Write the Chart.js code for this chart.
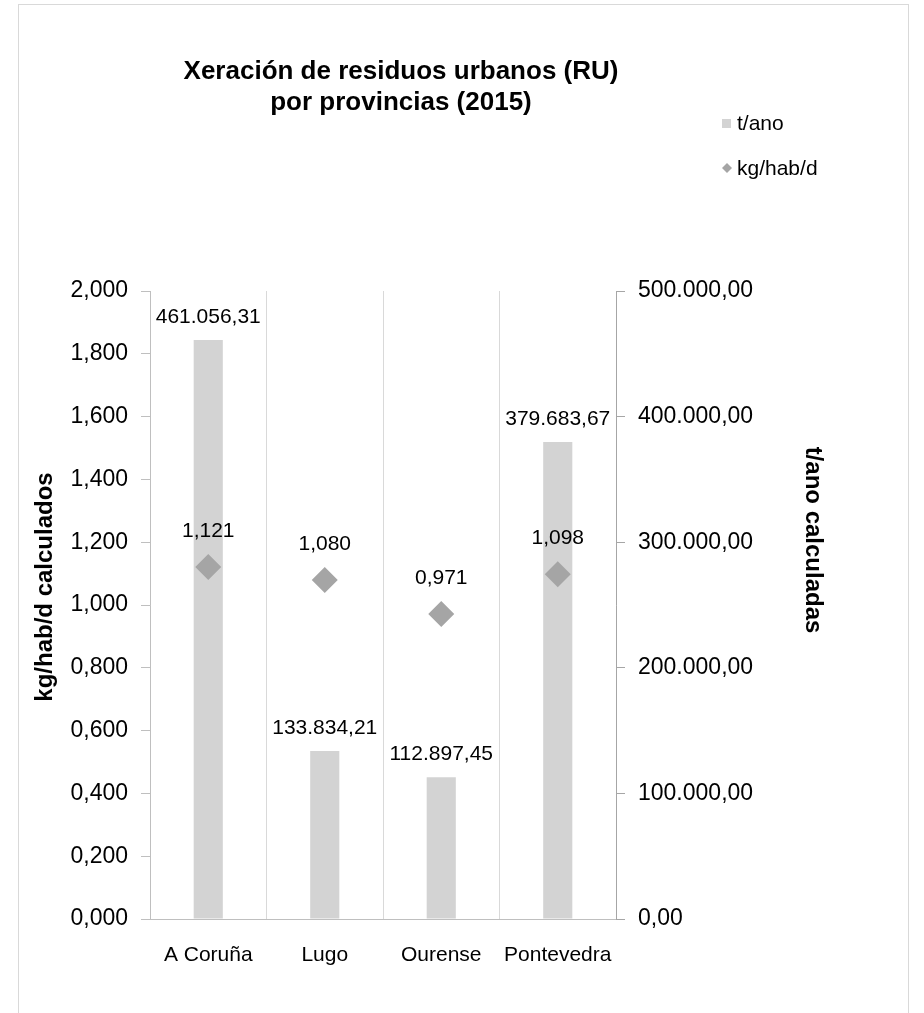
<!DOCTYPE html>
<html>
<head>
<meta charset="utf-8">
<title>Xeración de residuos urbanos (RU) por provincias (2015)</title>
<script src="https://cdn.jsdelivr.net/npm/chart.js@4.4.0/dist/chart.umd.min.js"></script>
<style>
  html, body { margin: 0; padding: 0; background: #fff; }
</style>
</head>
<body>
<canvas id="grafico_1" width="924" height="1013"></canvas>
<script>
// Dados
const provincias = ['A Coruña', 'Lugo', 'Ourense', 'Pontevedra']
const toneladasAno = [461056.31, 133834.21, 112897.45, 379683.67]
const kgHabDia = [1.121, 1.080, 0.971, 1.098]

const tituloLinhas = ['Xeración de residuos urbanos (RU)', 'por provincias (2015)']
const legendaTextos = ['t/ano', 'kg/hab/d']
const tituloEixoKg = 'kg/hab/d calculados'
const tituloEixoT = 't/ano calculadas'

// escalas: min, max e passo dos ticks
const eixoKg = [0, 2, 0.2]
const eixoT = [0, 500000, 100000]

const fonte = '"Liberation Sans", Arial, sans-serif'
const corBarra = '#d3d3d3'
const corPonto = '#a5a5a5'

// 461056.31 -> 461.056,31
function formatarNumero(valor, decimais) {
  var partes = valor.toFixed(decimais).split('.')
  partes[0] = partes[0].replace(/\B(?=(\d{3})+(?!\d))/g, '.')
  return partes.join(',')
}

const fundoPlugin = {
  id: 'fundo',
  beforeDraw(chart) {
    const ctx = chart.ctx
    ctx.save()
    ctx.fillStyle = '#fff'
    ctx.fillRect(0, 0, chart.width, chart.height)
    ctx.strokeStyle = '#d9d9d9'
    ctx.lineWidth = 1
    ctx.strokeRect(18.5, 4.5, 890, 1020)
    ctx.restore()
  }
}

// rótulos de dados, títulos e legenda
const textosPlugin = {
  id: 'textos',
  afterDatasetsDraw(chart) {
    const ctx = chart.ctx
    ctx.save()
    ctx.font = '21px ' + fonte
    ctx.fillStyle = '#000'
    ctx.textAlign = 'center'
    ctx.textBaseline = 'middle'
    chart.getDatasetMeta(0).data.forEach((barra, i) => {
      ctx.fillText(formatarNumero(toneladasAno[i], 2), barra.x, barra.y - 23)
    })
    chart.getDatasetMeta(1).data.forEach((ponto, i) => {
      ctx.fillText(formatarNumero(kgHabDia[i], 3), ponto.x, ponto.y - 36)
    })
    ctx.restore()
  },
  afterDraw(chart) {
    const ctx = chart.ctx
    ctx.save()
    ctx.fillStyle = '#000'
    ctx.textAlign = 'center'
    ctx.textBaseline = 'alphabetic'
    ctx.font = 'bold 26px ' + fonte
    ctx.fillText(tituloLinhas[0], 401, 79)
    ctx.fillText(tituloLinhas[1], 401, 110)

    // títulos dos eixos
    ctx.font = 'bold 24px ' + fonte
    ctx.textBaseline = 'middle'
    ctx.save()
    ctx.translate(45, 587)
    ctx.rotate(-Math.PI / 2)
    ctx.fillText(tituloEixoKg, 0, 0)
    ctx.restore()
    ctx.save()
    ctx.translate(813, 540)
    ctx.rotate(Math.PI / 2)
    ctx.fillText(tituloEixoT, 0, 0)
    ctx.restore()

    // legenda
    ctx.textAlign = 'left'
    ctx.font = '21px ' + fonte
    ctx.fillStyle = corBarra
    ctx.fillRect(722, 119, 9, 9)
    ctx.fillStyle = '#000'
    ctx.fillText(legendaTextos[0], 737, 124)

    ctx.fillStyle = corPonto
    ctx.beginPath()
    ctx.moveTo(727, 163)
    ctx.lineTo(732, 168)
    ctx.lineTo(727, 173)
    ctx.lineTo(722, 168)
    ctx.closePath()
    ctx.fill()
    ctx.fillStyle = '#000'
    ctx.fillText(legendaTextos[1], 737, 169)
    ctx.restore()
  }
}

function criarGrafico() {
  const ctx = document.getElementById('grafico_1')

  const data = {
    labels: provincias,
    datasets: [
      {
        type: 'bar',
        label: legendaTextos[0],
        data: toneladasAno,
        yAxisID: 'y1',
        backgroundColor: corBarra,
        categoryPercentage: 1,
        barPercentage: 0.25,
        order: 2,
      },
      {
        type: 'line',
        label: legendaTextos[1],
        data: kgHabDia,
        yAxisID: 'y',
        showLine: false,
        pointStyle: 'rectRot',
        pointRadius: 13,
        pointHoverRadius: 13,
        pointBackgroundColor: corPonto,
        pointBorderWidth: 0,
        borderColor: corPonto,
        order: 1,
      },
    ],
  }

  const options = {
    responsive: false,
    animation: false,
    layout: { padding: { left: 20, right: 98, top: 291, bottom: 34 } },
    plugins: {
      legend: { display: false },
      tooltip: { enabled: false },
    },
    scales: {
      x: {
        offset: true,
        grid: { display: true, offset: true, color: '#d9d9d9', drawTicks: false },
        border: { display: true, color: '#bfbfbf' },
        ticks: { color: '#000', font: { family: fonte, size: 21 }, padding: 24, maxRotation: 0 },
        afterFit: (s) => { s.height = 60 },
      },
      y: {
        position: 'left',
        min: eixoKg[0],
        max: eixoKg[1],
        ticks: {
          stepSize: eixoKg[2],
          color: '#000',
          font: { family: fonte, size: 23 },
          padding: 13,
          callback: (v) => formatarNumero(v, 3),
        },
        grid: { display: true, drawOnChartArea: false, tickLength: 9, color: '#bfbfbf' },
        border: { display: true, color: '#bfbfbf' },
        afterFit: (s) => { s.width = 130 },
      },
      y1: {
        position: 'right',
        min: eixoT[0],
        max: eixoT[1],
        ticks: {
          stepSize: eixoT[2],
          color: '#000',
          font: { family: fonte, size: 23 },
          padding: 13,
          callback: (v) => formatarNumero(v, 2),
        },
        grid: { display: true, drawOnChartArea: false, tickLength: 9, color: '#a6a6a6' },
        border: { display: true, color: '#a6a6a6' },
        afterFit: (s) => { s.width = 210 },
      },
    },
  }

  return new Chart(ctx, {
    type: 'bar',
    data: data,
    options: options,
    plugins: [fundoPlugin, textosPlugin],
  })
}

criarGrafico()
</script>
</body>
</html>
